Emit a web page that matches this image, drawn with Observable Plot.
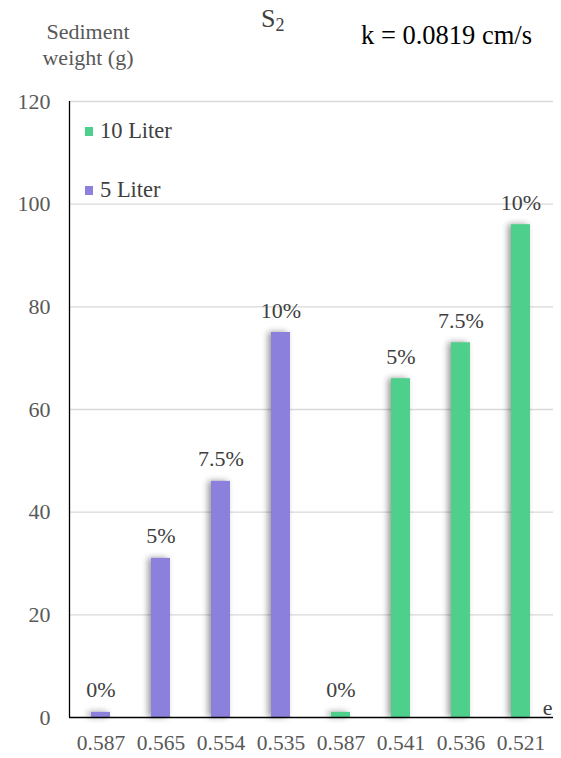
<!DOCTYPE html>
<html>
<head>
<meta charset="utf-8">
<script src="https://cdn.jsdelivr.net/npm/d3@7"></script>
<script src="https://cdn.jsdelivr.net/npm/@observablehq/plot@0.6"></script>
<style>
  body { margin: 0; background: #fff; font-family: "Liberation Serif", "Times New Roman", serif; }
  #wrap { position: relative; width: 561px; height: 758px; overflow: hidden; }
  .abs { position: absolute; white-space: nowrap; }
  #ylabel { left: 28px; top: 19px; width: 120px; text-align: center; font-size: 22px; line-height: 26px; color: #595959; }
  #title { left: 261px; top: 6px; font-size: 26px; line-height: 26px; color: #404040; }
  #title sub { font-size: 18px; line-height: 0; vertical-align: -4px; }
  #k { left: 361px; top: 20px; font-size: 26.5px; line-height: 30px; color: #000; }
  .leg { font-size: 22.5px; line-height: 26px; color: #404040; display: flex; align-items: center; }
  .sw { width: 8px; height: 9px; margin-right: 7px; display: inline-block; }
  #plot svg text { font-family: "Liberation Serif", "Times New Roman", serif; }
</style>
</head>
<body>
<div id="wrap">
  <div id="plot"></div>
</div>
<script>
const eLabels = ["0.587", "0.565", "0.554", "0.535", "0.587", "0.541", "0.536", "0.521"];
const weights = [1, 31, 46, 75, 1, 66, 73, 96];
const concentrations = ["0%", "5%", "7.5%", "10%", "0%", "5%", "7.5%", "10%"];
const volumes = ["5 Liter", "5 Liter", "5 Liter", "5 Liter", "10 Liter", "10 Liter", "10 Liter", "10 Liter"];
const seriesNames = ["10 Liter", "5 Liter"];
const seriesColors = ["#4ECF8B", "#8C80DD"];
const yTicks = [0, 20, 40, 60, 80, 100, 120];

const data = eLabels.map((e, i) => ({
  idx: i, e, weight: weights[i], conc: concentrations[i], vol: volumes[i]
}));

const chart = Plot.plot({
  width: 561,
  height: 758,
  marginTop: 101,
  marginBottom: 41,
  marginLeft: 69,
  marginRight: 8,
  style: { background: "transparent", fontFamily: "Liberation Serif, Times New Roman, serif" },
  x: { domain: d3.range(eLabels.length), paddingInner: 0.68, paddingOuter: 0.34, label: null },
  y: { domain: [0, 120], ticks: yTicks, label: null },
  color: { domain: seriesNames, range: seriesColors },
  marks: [
    Plot.gridY(yTicks.filter(t => t > 0), { stroke: "#d9d9d9", strokeOpacity: 1, strokeWidth: 1.3 }),
    Plot.axisY({ ticks: yTicks, tickSize: 0, tickPadding: 19, fontSize: 22, color: "#595959", label: null }),
    Plot.axisX({ tickSize: 0, tickPadding: 17, fontSize: 21.5, color: "#595959", label: null, tickFormat: i => eLabels[i] }),
    Plot.barY(data, { x: "idx", y: "weight", fill: "vol" }),
    Plot.text(data, { x: "idx", y: "weight", text: "conc", lineAnchor: "bottom", dy: -15, fontSize: 22, fill: "#404040" }),
    Plot.ruleY([0], { stroke: "#000", strokeWidth: 1.3 }),
    Plot.text(["e"], { frameAnchor: "bottom-right", dx: -1, dy: -3, fontSize: 22, fill: "#404040", textAnchor: "end", lineAnchor: "bottom" })
  ]
});

document.getElementById("plot").appendChild(chart);
const svg = d3.select(chart);
svg.selectAll("g[aria-label='bar'] rect")
  .style("filter", "drop-shadow(-3px 0px 3px rgba(0,0,0,0.4))");
svg.append("line")
  .attr("x1", 69.5).attr("x2", 69.5).attr("y1", 101).attr("y2", 717)
  .attr("stroke", "#000").attr("stroke-width", 1.3);

const wrap = document.getElementById("wrap");
function addDiv(id, html, cls) {
  const d = document.createElement("div");
  d.className = "abs " + (cls || "");
  if (id) d.id = id;
  d.innerHTML = html;
  wrap.appendChild(d);
  return d;
}
addDiv("ylabel", "Sediment<br>weight (g)");
addDiv("title", "S<sub>2</sub>");
addDiv("k", "k = 0.0819 cm/s");
const legTops = [118, 177];
seriesNames.forEach((name, i) => {
  const d = addDiv(null, `<span class="sw" style="background:${seriesColors[i]}"></span>${name}`, "leg");
  d.style.left = "85px";
  d.style.top = legTops[i] + "px";
});
</script>
</body>
</html>
